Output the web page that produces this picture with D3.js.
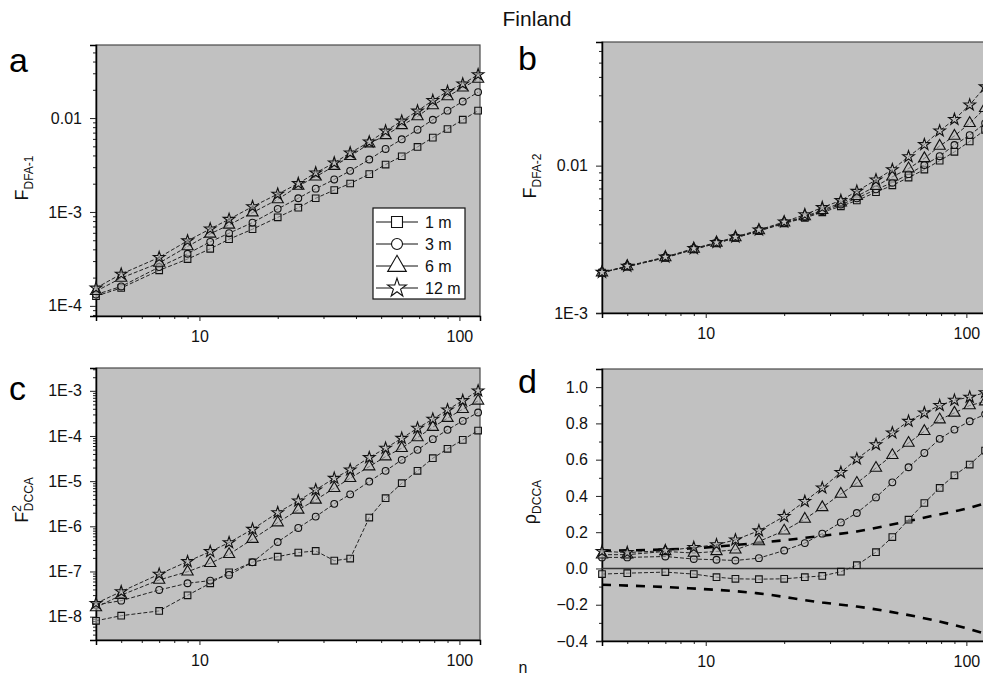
<!DOCTYPE html>
<html>
<head>
<meta charset="utf-8">
<script src="https://cdn.jsdelivr.net/npm/d3@7"></script>
<style>
  html, body { margin: 0; padding: 0; background: #fff; }
  svg { display: block; font-family: "Liberation Sans", Arial, sans-serif; }
</style>
</head>
<body>
<svg id="chart" width="983" height="678"></svg>
<script>
// ---------------- DATA ----------------
const nValues = [4, 5, 7, 9, 11, 13, 16, 20, 24, 28, 33, 38, 45, 52, 60, 69, 79, 90, 103, 118];
const seriesNames = ["1 m", "3 m", "6 m", "12 m"];

// (a) F_DFA-1
const dfa1_1m  = [1.27e-4, 1.55e-4, 2.39e-4, 3.15e-4, 4.05e-4, 5.13e-4, 6.55e-4, 8.77e-4, 1.11e-3, 1.40e-3, 1.71e-3, 2.01e-3, 2.53e-3, 3.20e-3, 3.92e-3, 4.93e-3, 6.19e-3, 7.65e-3, 9.6e-3, 1.20e-2];
const dfa1_3m  = [1.32e-4, 1.61e-4, 2.59e-4, 3.59e-4, 4.81e-4, 5.94e-4, 7.71e-4, 1.08e-3, 1.40e-3, 1.77e-3, 2.22e-3, 2.74e-3, 3.62e-3, 4.69e-3, 5.94e-3, 7.52e-3, 9.6e-3, 1.20e-2, 1.50e-2, 1.89e-2];
const dfa1_6m  = [1.43e-4, 1.98e-4, 2.86e-4, 4.29e-4, 5.85e-4, 7.28e-4, 9.84e-4, 1.36e-3, 1.89e-3, 2.37e-3, 3.08e-3, 3.92e-3, 5.35e-3, 6.55e-3, 8.36e-3, 1.04e-2, 1.36e-2, 1.70e-2, 2.10e-2, 2.61e-2];
const dfa1_12m = [1.55e-4, 2.18e-4, 3.28e-4, 4.93e-4, 6.60e-4, 8.36e-4, 1.14e-3, 1.55e-3, 2.01e-3, 2.61e-3, 3.33e-3, 4.26e-3, 5.57e-3, 7.28e-3, 9.3e-3, 1.19e-2, 1.54e-2, 1.92e-2, 2.31e-2, 2.90e-2];

// (b) F_DFA-2
const dfa2_1m  = [1.88e-3, 2.06e-3, 2.37e-3, 2.70e-3, 2.97e-3, 3.23e-3, 3.60e-3, 4.05e-3, 4.42e-3, 4.82e-3, 5.30e-3, 5.80e-3, 6.60e-3, 7.35e-3, 8.30e-3, 9.40e-3, 1.08e-2, 1.24e-2, 1.46e-2, 1.75e-2];
const dfa2_3m  = [1.88e-3, 2.07e-3, 2.38e-3, 2.71e-3, 2.98e-3, 3.24e-3, 3.62e-3, 4.08e-3, 4.47e-3, 4.90e-3, 5.45e-3, 6.00e-3, 6.90e-3, 7.65e-3, 8.75e-3, 1.01e-2, 1.16e-2, 1.38e-2, 1.61e-2, 1.94e-2];
const dfa2_6m  = [1.88e-3, 2.07e-3, 2.38e-3, 2.72e-3, 2.99e-3, 3.25e-3, 3.63e-3, 4.10e-3, 4.52e-3, 4.98e-3, 5.60e-3, 6.20e-3, 7.25e-3, 8.40e-3, 9.55e-3, 1.12e-2, 1.36e-2, 1.59e-2, 1.94e-2, 2.45e-2];
const dfa2_12m = [1.89e-3, 2.08e-3, 2.40e-3, 2.74e-3, 3.01e-3, 3.28e-3, 3.66e-3, 4.15e-3, 4.65e-3, 5.20e-3, 5.80e-3, 6.70e-3, 8.00e-3, 9.40e-3, 1.15e-2, 1.39e-2, 1.72e-2, 2.06e-2, 2.58e-2, 3.43e-2];

// (c) F^2_DCCA
const dcca_1m  = [8.1e-9, 1.05e-8, 1.34e-8, 2.97e-8, 5.48e-8, 9.6e-8, 1.6e-7, 2.13e-7, 2.62e-7, 2.85e-7, 1.74e-7, 1.93e-7, 1.56e-6, 4.19e-6, 9.0e-6, 1.69e-5, 3.22e-5, 5.19e-5, 8.2e-5, 1.32e-4];
const dcca_3m  = [1.82e-8, 2.26e-8, 3.9e-8, 5.48e-8, 6.28e-8, 8.4e-8, 1.6e-7, 4.5e-7, 9.2e-7, 1.64e-6, 3.14e-6, 5.1e-6, 9.8e-6, 1.69e-5, 2.96e-5, 4.93e-5, 8.5e-5, 1.37e-4, 2.16e-4, 3.31e-4];
const dcca_6m  = [1.6e-8, 3.0e-8, 6.5e-8, 9.9e-8, 1.52e-7, 2.4e-7, 5.2e-7, 1.21e-6, 2.31e-6, 3.85e-6, 6.97e-6, 1.16e-5, 2.1e-5, 3.5e-5, 5.37e-5, 9.25e-5, 1.57e-4, 2.48e-4, 3.92e-4, 6.0e-4];
const dcca_12m = [1.97e-8, 3.58e-8, 8.7e-8, 1.66e-7, 2.76e-7, 4.36e-7, 8.6e-7, 2.01e-6, 3.65e-6, 6.4e-6, 1.16e-5, 1.78e-5, 3.33e-5, 5.37e-5, 8.9e-5, 1.49e-4, 2.36e-4, 3.79e-4, 6.1e-4, 1.0e-3];

// (d) rho_DCCA
const rho_1m  = [-0.031, -0.026, -0.02, -0.031, -0.048, -0.057, -0.059, -0.057, -0.048, -0.041, -0.018, 0.018, 0.09, 0.173, 0.269, 0.361, 0.444, 0.514, 0.573, 0.65];
const rho_3m  = [0.061, 0.061, 0.066, 0.052, 0.048, 0.044, 0.057, 0.099, 0.14, 0.192, 0.254, 0.306, 0.392, 0.475, 0.558, 0.637, 0.715, 0.766, 0.812, 0.85];
const rho_6m  = [0.076, 0.076, 0.094, 0.085, 0.094, 0.103, 0.149, 0.208, 0.273, 0.337, 0.411, 0.471, 0.554, 0.624, 0.692, 0.757, 0.821, 0.858, 0.899, 0.92];
const rho_12m = [0.094, 0.088, 0.098, 0.116, 0.131, 0.158, 0.208, 0.287, 0.37, 0.444, 0.53, 0.604, 0.683, 0.748, 0.812, 0.858, 0.899, 0.928, 0.945, 0.97];

// critical-value dashed curves in (d)
const critN     = [4, 8.6, 15.6, 28, 38, 55, 74, 100, 118];
const critUpper = [0.098, 0.11, 0.14, 0.18, 0.204, 0.25, 0.29, 0.33, 0.36];
const critLower = [-0.09, -0.109, -0.136, -0.188, -0.21, -0.247, -0.284, -0.33, -0.36];

// tick labels
const xTickValues = [10, 100];
const yTicksA = [1e-4, 1e-3, 1e-2];
const yTicksB = [1e-3, 1e-2];
const yTicksC = [1e-8, 1e-7, 1e-6, 1e-5, 1e-4, 1e-3];
const yTicksD = [-0.4, -0.2, 0.0, 0.2, 0.4, 0.6, 0.8, 1.0];

// ---------------- DRAWING ----------------
const svg = d3.select("#chart");
const BG = "#c1c1c1";
const FONT = "'Liberation Sans', Arial, sans-serif";

const symbolTypes = [d3.symbolSquare, d3.symbolCircle, d3.symbolTriangle, d3.symbolStar];
const symbolSizes = [44, 36, 55, 42];
const legendSizes = [120, 95, 150, 110];

function logLabel(v) {
  if (Math.abs(v - 0.01) < 1e-12) return "0.01";
  const e = Math.round(Math.log10(v));
  return "1E" + e;
}

function minorLog(domain) {
  const out = [];
  const lo = Math.floor(Math.log10(domain[0])), hi = Math.ceil(Math.log10(domain[1]));
  for (let e = lo; e <= hi; e++) {
    for (let m = 2; m <= 9; m++) {
      const v = m * Math.pow(10, e);
      if (v >= domain[0] && v <= domain[1]) out.push(v);
    }
  }
  return out;
}

function panel(cfg) {
  const g = svg.append("g");
  const x = d3.scaleLog().domain([4, 120]).range([cfg.x0, cfg.x1]);
  const y = cfg.log ? d3.scaleLog().domain(cfg.yDomain).range([cfg.y1, cfg.y0])
                    : d3.scaleLinear().domain(cfg.yDomain).range([cfg.y1, cfg.y0]);

  g.append("rect").attr("x", cfg.x0).attr("y", cfg.y0)
    .attr("width", cfg.x1 - cfg.x0).attr("height", cfg.y1 - cfg.y0)
    .attr("fill", BG).attr("stroke", "#4a4a4a").attr("stroke-width", 1.2);

  // x axis
  const xMinor = minorLog([4, 120]).filter(v => xTickValues.indexOf(v) < 0);
  g.append("g").attr("transform", `translate(0,${cfg.y1})`)
    .call(d3.axisBottom(x).tickValues(xMinor).tickSize(3).tickFormat(""))
    .call(a => a.select(".domain").remove());
  g.append("g").attr("transform", `translate(0,${cfg.y1})`)
    .call(d3.axisBottom(x).tickValues(xTickValues).tickSize(5).tickPadding(10).tickFormat(d3.format("d")))
    .call(a => a.select(".domain").attr("stroke-width", 1.5));

  // y axis
  if (cfg.log) {
    const yMinor = minorLog(cfg.yDomain).filter(v => cfg.yTicks.every(t => Math.abs(t - v) / t > 1e-6));
    g.append("g").attr("transform", `translate(${cfg.x0},0)`)
      .call(d3.axisLeft(y).tickValues(yMinor).tickSize(3).tickFormat(""))
      .call(a => a.select(".domain").remove());
    g.append("g").attr("transform", `translate(${cfg.x0},0)`)
      .call(d3.axisLeft(y).tickValues(cfg.yTicks).tickSize(6).tickPadding(8).tickFormat(logLabel))
      .call(a => a.select(".domain").attr("stroke-width", 1.5));
  } else {
    const yMinor = d3.range(-0.3, 1.1, 0.2).map(v => +v.toFixed(1));
    g.append("g").attr("transform", `translate(${cfg.x0},0)`)
      .call(d3.axisLeft(y).tickValues(yMinor).tickSize(3).tickFormat(""))
      .call(a => a.select(".domain").remove());
    g.append("g").attr("transform", `translate(${cfg.x0},0)`)
      .call(d3.axisLeft(y).tickValues(cfg.yTicks).tickSize(6).tickPadding(8).tickFormat(d3.format(".1f")))
      .call(a => a.select(".domain").attr("stroke-width", 1.5));
  }
  g.selectAll(".tick text").attr("font-size", 16).attr("font-family", FONT).attr("fill", "#111");
  g.selectAll(".tick line").attr("stroke", "#222");

  // zero line + critical curves
  if (!cfg.log) {
    g.append("line").attr("x1", cfg.x0).attr("x2", cfg.x1)
      .attr("y1", y(0)).attr("y2", y(0)).attr("stroke", "#333").attr("stroke-width", 1.5);
    const cl = d3.line().x(d => x(d[0])).y(d => y(d[1])).curve(d3.curveMonotoneX);
    [critUpper, critLower].forEach(arr => {
      g.append("path").datum(critN.map((n, i) => [n, arr[i]]))
        .attr("d", cl).attr("fill", "none").attr("stroke", "#000")
        .attr("stroke-width", 2.6).attr("stroke-dasharray", "9,8");
    });
  }

  // series
  const line = d3.line().x(d => x(d[0])).y(d => y(d[1]));
  cfg.series.forEach((vals, si) => {
    const pts = nValues.map((n, i) => [n, vals[i]]);
    g.append("path").datum(pts).attr("d", line)
      .attr("fill", "none").attr("stroke", "#222").attr("stroke-width", 1)
      .attr("stroke-dasharray", "4,2");
  });
  cfg.series.forEach((vals, si) => {
    const pts = nValues.map((n, i) => [n, vals[i]]);
    g.selectAll(null).data(pts).join("path")
      .attr("transform", d => `translate(${x(d[0])},${y(d[1])})`)
      .attr("d", d3.symbol().type(symbolTypes[si]).size(symbolSizes[si]))
      .attr("fill", BG).attr("fill-opacity", 0.55).attr("stroke", "#111").attr("stroke-width", 1.1);
  });

  // panel letter
  svg.append("text").attr("x", cfg.letterX).attr("y", cfg.letterY)
    .attr("font-size", 34).attr("font-family", FONT).attr("fill", "#000").text(cfg.letter);

  // y title
  const t = svg.append("text")
    .attr("transform", `translate(${cfg.titleX},${cfg.titleY}) rotate(-90)`)
    .attr("text-anchor", "middle").attr("font-family", FONT).attr("fill", "#111");
  cfg.title(t);
  return { x, y };
}

// title
svg.append("text").attr("x", 537).attr("y", 26).attr("text-anchor", "middle")
  .attr("font-size", 21).attr("font-family", FONT).attr("fill", "#111").text("Finland");

panel({
  x0: 96, x1: 480, y0: 45, y1: 316, log: true, yDomain: [7.8e-5, 0.06], yTicks: yTicksA,
  series: [dfa1_1m, dfa1_3m, dfa1_6m, dfa1_12m], letter: "a", letterX: 9, letterY: 72,
  titleX: 28, titleY: 178,
  title: t => { t.append("tspan").attr("font-size", 18).text("F");
                t.append("tspan").attr("font-size", 12).attr("dy", 5).text("DFA-1"); }
});
panel({
  x0: 602, x1: 987, y0: 42, y1: 313, log: true, yDomain: [1e-3, 0.069], yTicks: yTicksB,
  series: [dfa2_1m, dfa2_3m, dfa2_6m, dfa2_12m], letter: "b", letterX: 518, letterY: 70,
  titleX: 536, titleY: 176,
  title: t => { t.append("tspan").attr("font-size", 18).text("F");
                t.append("tspan").attr("font-size", 12).attr("dy", 5).text("DFA-2"); }
});
panel({
  x0: 96, x1: 480, y0: 368, y1: 640, log: true, yDomain: [3.04e-9, 3.2e-3], yTicks: yTicksC,
  series: [dcca_1m, dcca_3m, dcca_6m, dcca_12m], letter: "c", letterX: 9, letterY: 400,
  titleX: 28, titleY: 500,
  title: t => { t.append("tspan").attr("font-size", 18).text("F");
                t.append("tspan").attr("font-size", 12).attr("dy", -7).text("2");
                t.append("tspan").attr("font-size", 12).attr("dy", 12).attr("dx", -6).text("DCCA"); }
});
panel({
  x0: 602, x1: 987, y0: 369, y1: 641, log: false, yDomain: [-0.4, 1.1], yTicks: yTicksD,
  series: [rho_1m, rho_3m, rho_6m, rho_12m], letter: "d", letterX: 518, letterY: 393,
  titleX: 536, titleY: 502,
  title: t => { t.append("tspan").attr("font-size", 18).text("ρ");
                t.append("tspan").attr("font-size", 12).attr("dy", 5).text("DCCA"); }
});

// "n" label
svg.append("text").attr("x", 523).attr("y", 673).attr("text-anchor", "middle")
  .attr("font-size", 16).attr("font-family", FONT).attr("fill", "#111").text("n");

// legend in panel a
const leg = svg.append("g");
leg.append("rect").attr("x", 373).attr("y", 208).attr("width", 92).attr("height", 91)
  .attr("fill", "#fff").attr("stroke", "#111").attr("stroke-width", 1.2);
seriesNames.forEach((name, i) => {
  const yy = 222 + i * 22;
  leg.append("line").attr("x1", 376).attr("x2", 418).attr("y1", yy).attr("y2", yy)
    .attr("stroke", "#111").attr("stroke-width", 1);
  leg.append("path").attr("transform", `translate(397,${yy})`)
    .attr("d", d3.symbol().type(symbolTypes[i]).size(legendSizes[i]))
    .attr("fill", "#fff").attr("stroke", "#111").attr("stroke-width", 1.1);
  leg.append("text").attr("x", 425).attr("y", yy + 6).attr("font-size", 16)
    .attr("font-family", FONT).attr("fill", "#111").text(name);
});
</script>
</body>
</html>
